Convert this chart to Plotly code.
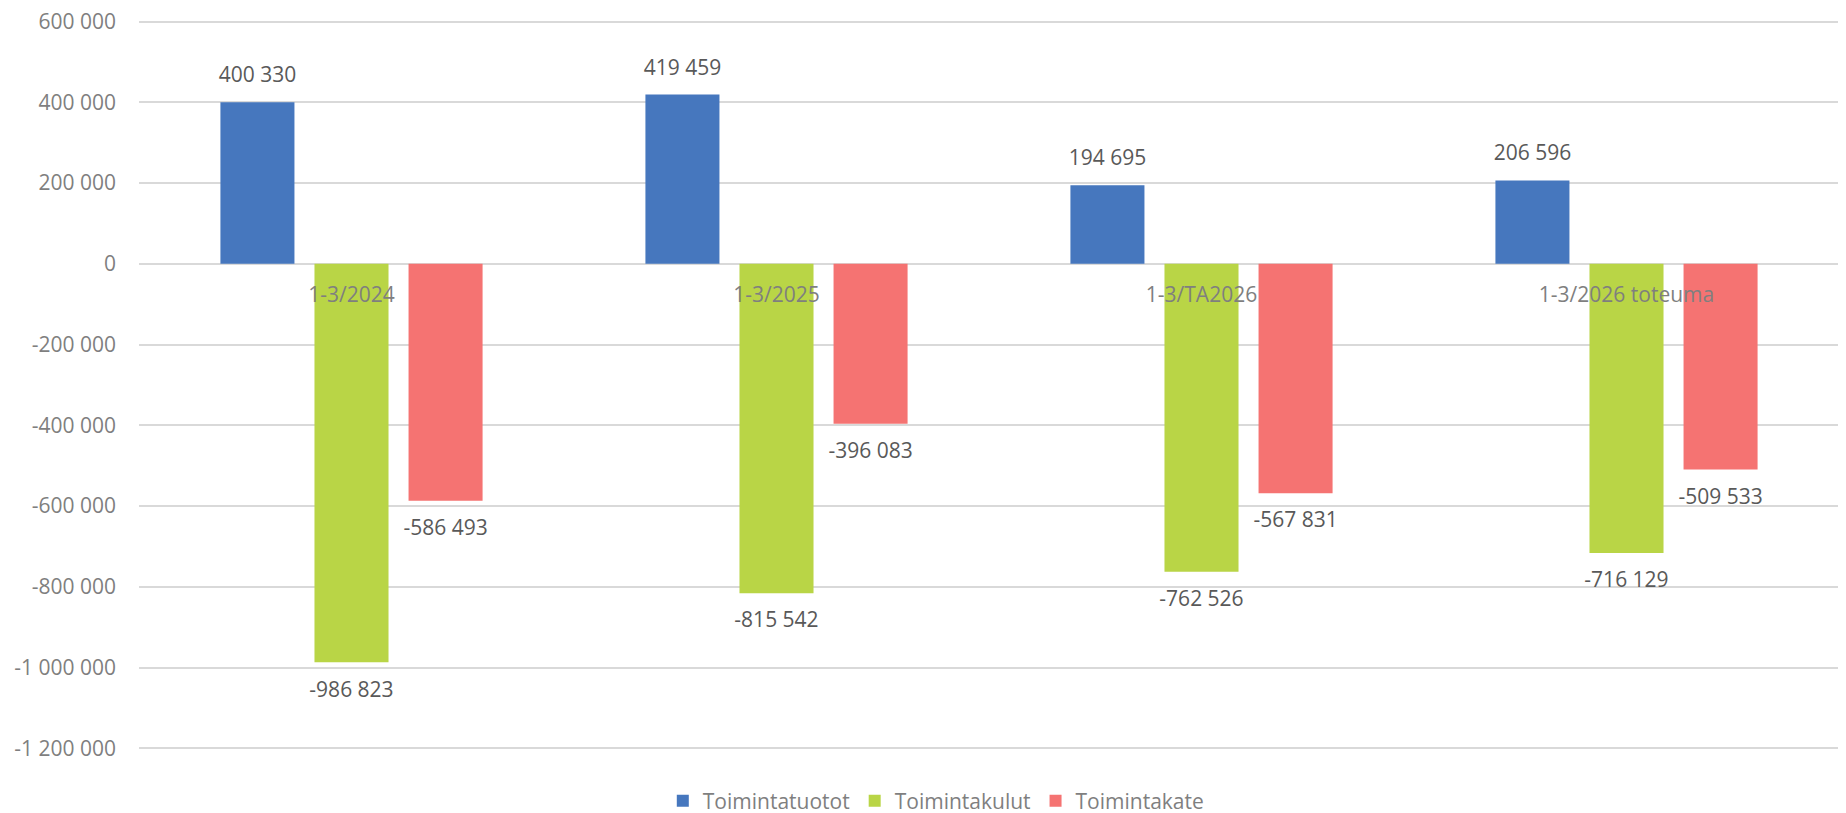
import plotly.graph_objects as go

categories = ["1-3/2024", "1-3/2025", "1-3/TA2026", "1-3/2026 toteuma"]
series_names = ["Toimintatuotot", "Toimintakulut", "Toimintakate"]
tuotot = [400330, 419459, 194695, 206596]
kulut = [-986823, -815542, -762526, -716129]
kate = [-586493, -396083, -567831, -509533]
colors = ["#4677BE", "#B9D546", "#F57372"]
tick_vals = [600000, 400000, 200000, 0, -200000, -400000, -600000, -800000, -1000000, -1200000]
tick_text = ["600 000", "400 000", "200 000", "0", "-200 000", "-400 000", "-600 000",
             "-800 000", "-1 000 000", "-1 200 000"]

FONT = "Open Sans, Liberation Sans, sans-serif"
FS = 21
GAP = 0.336

# the page body adds an 8px offset; margins compensate for it
W, H = 1846, 813


def fmt(v):
    return f"{v:,}".replace(",", " ")


fig = go.Figure()
for name, vals, col in zip(series_names, [tuotot, kulut, kate], colors):
    fig.add_trace(go.Bar(
        x=categories, y=vals, name=name,
        marker=dict(color=col, line=dict(width=0)),
        hoverinfo="x+y",
    ))
for name, vals in zip(series_names, [tuotot, kulut, kate]):
    fig.add_trace(go.Scatter(
        x=categories, y=vals, name=name + " labels",
        mode="markers+text",
        marker=dict(size=[22 if v >= 0 else 28 for v in vals], opacity=0),
        text=[fmt(v) for v in vals],
        textposition=["top center" if v >= 0 else "bottom center" for v in vals],
        textfont=dict(family=FONT, size=FS, color="#595959"),
        showlegend=False, hoverinfo="skip", cliponaxis=False,
    ))

fig.update_layout(
    barmode="group",
    scattermode="group",
    bargap=GAP,
    scattergap=GAP,
    bargroupgap=0.213,
    width=W, height=H,
    margin=dict(l=131, r=15, t=12, b=71, autoexpand=False),
    plot_bgcolor="white", paper_bgcolor="white",
    font=dict(family=FONT, size=FS, color="#7F7F7F"),
    legend=dict(orientation="h", x=0.469, xanchor="center",
                yref="container", y=1 - 793 / H, yanchor="middle",
                font=dict(family=FONT, size=FS, color="#7F7F7F"),
                itemwidth=30, traceorder="normal"),
    xaxis=dict(anchor="free", position=2 / 3, showgrid=False, showline=False,
               zeroline=False, ticks="", ticklabelstandoff=17, automargin=False,
               tickfont=dict(family=FONT, size=FS, color="#7F7F7F")),
    yaxis=dict(range=[-1204000, 604000], tickvals=tick_vals, ticktext=tick_text,
               showgrid=True, gridcolor="#D9D9D9", gridwidth=1.5,
               zeroline=True, zerolinecolor="#D9D9D9", zerolinewidth=1.5,
               showline=False, ticks="", ticklabelstandoff=22, automargin=False,
               ticklabeloverflow="allow",
               tickfont=dict(family=FONT, size=FS, color="#7F7F7F")),
)

fig.write_html("out.html")
